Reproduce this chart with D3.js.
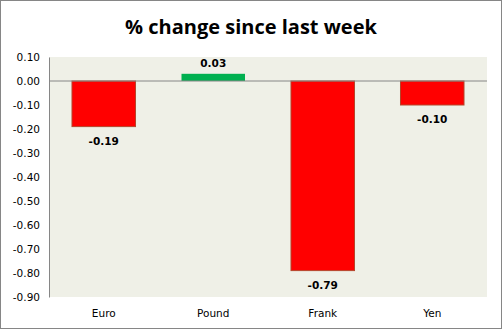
<!DOCTYPE html>
<html><head><meta charset="utf-8">
<script src="https://cdn.jsdelivr.net/npm/d3@7/dist/d3.min.js"></script>
<style>body{margin:0;background:#fff}svg{display:block}</style>
</head><body>
<script>
const title = "% change since last week";
const categories = ["Euro", "Pound", "Frank", "Yen"];
const values = [-0.19, 0.03, -0.79, -0.10];
const tickValues = [0.10, 0.00, -0.10, -0.20, -0.30, -0.40, -0.50, -0.60, -0.70, -0.80, -0.90];

const W = 502, H = 329;
const m = {left: 49, right: 15, top: 57, bottom: 32};
const fmt = d => d3.format(".2f")(d).replace("\u2212", "-");
const svg = d3.select("body").append("svg").attr("width", W).attr("height", H);
svg.append("rect").attr("x", 0.5).attr("y", 0.5).attr("width", W - 1).attr("height", H - 1)
  .attr("fill", "#fff").attr("stroke", "#868686");

const x = d3.scaleBand().domain(categories).range([m.left, W - m.right]).paddingInner(0.42).paddingOuter(0.21);
const y = d3.scaleLinear().domain([-0.9, 0.1]).range([H - m.bottom, m.top]);

svg.append("rect").attr("x", m.left).attr("y", m.top).attr("width", W - m.right - m.left)
  .attr("height", H - m.bottom - m.top).attr("fill", "#eff0e7");

svg.append("text").attr("x", 251).attr("y", 34).attr("text-anchor", "middle")
  .attr("font-family", "Open Sans, sans-serif").attr("font-weight", "bold").attr("font-size", 20)
  .attr("fill", "#000").text(title);

const yAxis = svg.append("g").attr("transform", `translate(${m.left},0)`)
  .call(d3.axisLeft(y).tickValues(tickValues).tickFormat(fmt).tickSize(0).tickPadding(9));
yAxis.select(".domain").attr("stroke", "#868686");
yAxis.selectAll("text").attr("font-family", "DejaVu Sans, sans-serif").attr("font-size", 10.5).attr("fill", "#000");

svg.selectAll(".bar").data(values).join("rect").attr("class", "bar")
  .attr("x", (d, i) => x(categories[i]))
  .attr("width", x.bandwidth())
  .attr("y", d => y(Math.max(0, d)))
  .attr("height", d => Math.abs(y(d) - y(0)))
  .attr("fill", d => d >= 0 ? "#00b050" : "#ff0000")
  .attr("stroke", d => d >= 0 ? "none" : "#b5462c").attr("stroke-width", 1);

svg.append("line").attr("x1", m.left).attr("x2", W - m.right).attr("y1", y(0)).attr("y2", y(0))
  .attr("stroke", "#868686");

svg.selectAll(".lbl").data(values).join("text").attr("class", "lbl")
  .attr("x", (d, i) => x(categories[i]) + x.bandwidth() / 2)
  .attr("y", d => d >= 0 ? y(d) - 7 : y(d) + 18)
  .attr("text-anchor", "middle").attr("font-family", "DejaVu Sans, sans-serif")
  .attr("font-weight", "bold").attr("font-size", 10.5).attr("fill", "#000")
  .text(fmt);

svg.selectAll(".cat").data(categories).join("text").attr("class", "cat")
  .attr("x", d => x(d) + x.bandwidth() / 2).attr("y", H - 12)
  .attr("text-anchor", "middle").attr("font-family", "DejaVu Sans, sans-serif")
  .attr("font-size", 10.5).attr("fill", "#000").text(d => d);
</script>
</body></html>
